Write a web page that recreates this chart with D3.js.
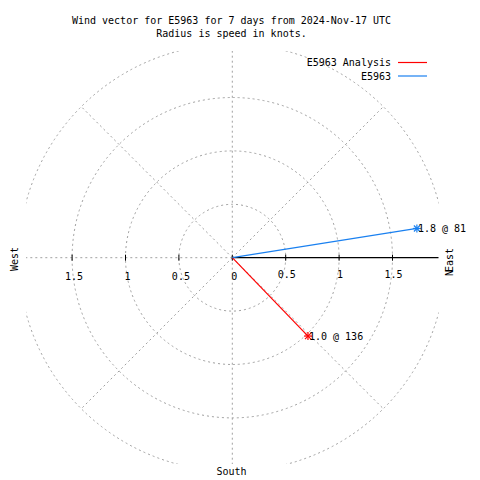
<!DOCTYPE html>
<html><head><meta charset="utf-8">
<script src="https://cdn.jsdelivr.net/npm/d3@7"></script>
<style>body{margin:0;background:#fff}svg{display:block}text{font-family:"DejaVu Sans Mono",monospace;font-size:10px;fill:#000}</style>
</head><body><div id="c"></div>
<script>
const titleLines = ["Wind vector for E5963 for 7 days from 2024-Nov-17 UTC", "Radius is speed in knots."];
const seriesNames = ["E5963 Analysis", "E5963"];
const speeds = [1.02, 1.75];
const directions = [136, 81];
const pointLabels = ["1.0 @ 136", "1.8 @ 81"];
const seriesColors = ["#ff0000", "#1a80f0"];
const rTicks = [0, 0.5, 1, 1.5];
const rTickLabels = ["0", "0.5", "1", "1.5"];
const gridRadii = [0.5, 1, 1.5, 2];
const spokeAngles = [0, 45, 135, 180, 225, 315];

const W = 480, H = 480, cx = 232.3, cy = 257.7;
const box = {x0: 26, x1: 438.5, y0: 51, y1: 464};
const r = d3.scaleLinear().domain([0, 2]).range([0, 213.6]);
const pt = (sp, deg) => { const a = deg * Math.PI / 180; return [cx + r(sp) * Math.sin(a), cy - r(sp) * Math.cos(a)]; };

const svg = d3.select("#c").append("svg").attr("width", W).attr("height", H);
svg.append("defs").append("clipPath").attr("id", "clip").append("rect")
  .attr("x", box.x0).attr("y", box.y0).attr("width", box.x1 - box.x0).attr("height", box.y1 - box.y0);
const g = svg.append("g").attr("clip-path", "url(#clip)");
const gridStyle = s => s.attr("fill", "none").attr("stroke", "#a0a0a0").attr("stroke-width", 1).attr("stroke-dasharray", "2,3");

g.selectAll("circle.grid").data(gridRadii).join("circle").attr("class", "grid")
  .attr("cx", cx).attr("cy", cy).attr("r", d => r(d)).call(gridStyle);
g.selectAll("line.spoke").data(spokeAngles).join("line").attr("class", "spoke")
  .attr("x1", cx).attr("y1", cy)
  .attr("x2", d => pt(2, d)[0]).attr("y2", d => pt(2, d)[1]).call(gridStyle);
g.append("line").attr("x1", cx).attr("y1", cy).attr("x2", box.x0).attr("y2", cy).call(gridStyle);

// radial axis (east, solid)
svg.append("line").attr("x1", cx).attr("y1", cy).attr("x2", box.x1).attr("y2", cy)
  .attr("stroke", "#000").attr("stroke-width", 1.2);
// ticks both sides
const tickXs = [];
rTicks.forEach(t => { tickXs.push(cx + r(t)); if (t > 0) tickXs.push(cx - r(t)); });
svg.selectAll("line.tick").data(tickXs).join("line").attr("class", "tick")
  .attr("x1", d => d).attr("x2", d => d).attr("y1", cy - 3).attr("y2", cy + 3)
  .attr("stroke", "#000").attr("stroke-width", 1);
// left tick labels
svg.selectAll("text.tl").data(rTicks).join("text").attr("class", "tl")
  .attr("x", d => cx - r(d) + 2).attr("y", cy + 22).attr("text-anchor", "middle").text((d, i) => rTickLabels[i]);
// right tick labels
svg.selectAll("text.tr").data(rTicks.slice(1)).join("text").attr("class", "tr")
  .attr("x", d => cx + r(d) + 1).attr("y", cy + 20).attr("text-anchor", "middle")
  .text((d, i) => rTickLabels[i + 1]);

// vectors
const idx = d3.range(speeds.length);
svg.selectAll("line.vec").data(idx).join("line").attr("class", "vec")
  .attr("x1", cx).attr("y1", cy)
  .attr("x2", i => pt(speeds[i], directions[i])[0]).attr("y2", i => pt(speeds[i], directions[i])[1])
  .attr("stroke", i => seriesColors[i]).attr("stroke-width", 1.2);
idx.forEach(i => {
  const [x, y] = pt(speeds[i], directions[i]);
  const m = svg.append("g").attr("transform", `translate(${x},${y})`).attr("stroke", seriesColors[i]).attr("stroke-width", 1.2);
  [[-4,0,4,0],[0,-4,0,4],[-3,-3,3,3],[-3,3,3,-3]].forEach(s => m.append("line").attr("x1", s[0]).attr("y1", s[1]).attr("x2", s[2]).attr("y2", s[3]));
  svg.append("text").attr("x", x + 1).attr("y", y + 3.5).text(pointLabels[i]);
});

// legend
idx.forEach(i => {
  const y = 62.5 + i * 13.5;
  svg.append("text").attr("x", 391).attr("y", y + 3.5).attr("text-anchor", "end").text(seriesNames[i]);
  svg.append("line").attr("x1", 398).attr("x2", 427).attr("y1", y).attr("y2", y).attr("stroke", seriesColors[i]).attr("stroke-width", 1.2);
});

// title
svg.selectAll("text.title").data(titleLines).join("text").attr("class", "title")
  .attr("x", 231.5).attr("y", (d, i) => 23.5 + i * 13).attr("text-anchor", "middle").text(d => d);

// compass labels
svg.append("text").attr("transform", "translate(18,259) rotate(-90)").attr("text-anchor", "middle").text("West");
svg.append("text").attr("transform", "translate(453,260) rotate(-90)").attr("text-anchor", "middle").text("East");
svg.append("text").attr("transform", "translate(453,273) rotate(-90)").attr("text-anchor", "middle").text("N");
svg.append("text").attr("x", 231.5).attr("y", 474.5).attr("text-anchor", "middle").text("South");
</script></body></html>
